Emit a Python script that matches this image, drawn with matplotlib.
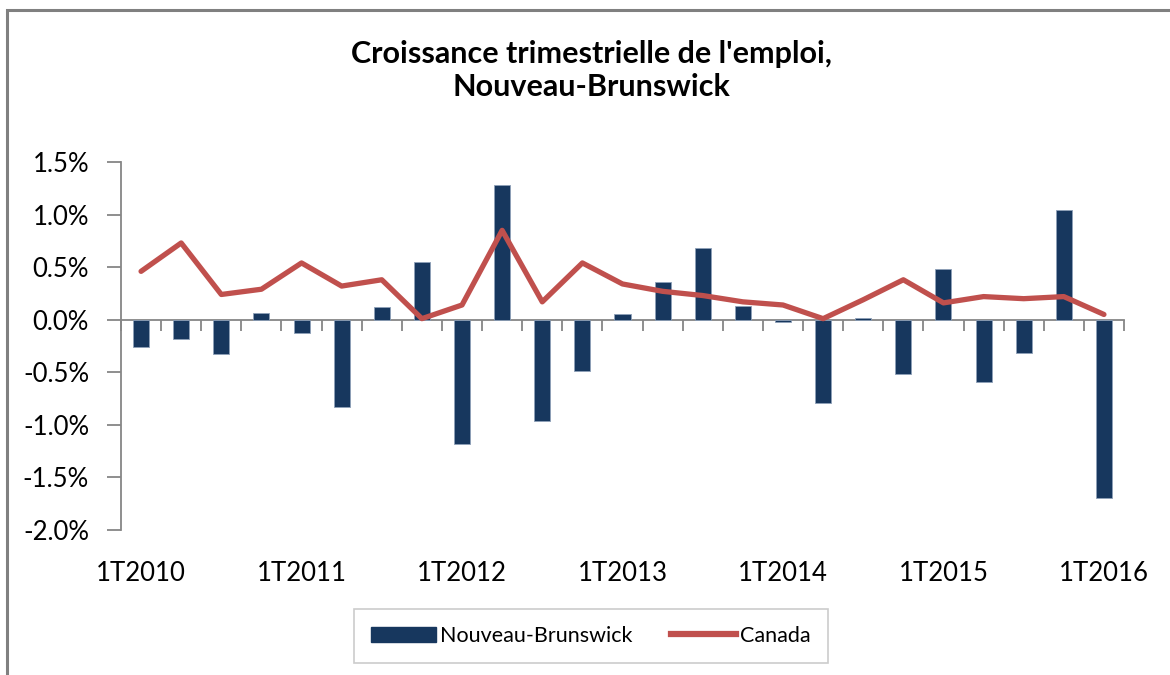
import matplotlib
matplotlib.use("Agg")
import matplotlib.pyplot as plt
from matplotlib.patches import Rectangle, Patch
from matplotlib.lines import Line2D
import numpy as np

plt.rcParams['font.family'] = ['Lato', 'DejaVu Sans']

quarters = [f"{q}T{y}" for y in range(2010, 2017) for q in range(1, 5)][:25]
nb_growth = [-0.26, -0.18, -0.33, 0.06, -0.13, -0.83, 0.12, 0.55, -1.18, 1.28,
             -0.96, -0.49, 0.05, 0.36, 0.68, 0.13, -0.02, -0.79, 0.02, -0.52,
             0.48, -0.59, -0.32, 1.04, -1.70]
canada_growth = [0.46, 0.73, 0.24, 0.29, 0.54, 0.32, 0.38, 0.01, 0.14, 0.85,
                 0.17, 0.54, 0.34, 0.27, 0.23, 0.17, 0.14, 0.01, 0.19, 0.38,
                 0.16, 0.22, 0.20, 0.22, 0.05]
y_ticks = [-2.0, -1.5, -1.0, -0.5, 0.0, 0.5, 1.0, 1.5]
title = "Croissance trimestrielle de l'emploi,\nNouveau-Brunswick"
series_names = ["Nouveau-Brunswick", "Canada"]

bar_color = "#17375E"
line_color = "#C0504D"
axis_color = "#868686"

fig = plt.figure(figsize=(11.7, 6.75), dpi=100)
ax = fig.add_axes([121/1170, 1 - 530/675, (1124 - 121)/1170, (530 - 162)/675])

x = np.arange(len(quarters))
ax.bar(x, nb_growth, width=0.4, color=bar_color, edgecolor="#8EA0B8",
       linewidth=0.6, zorder=2)
ax.plot(x, canada_growth, color=line_color, linewidth=3.8, zorder=3,
        solid_joinstyle='round', solid_capstyle='round')

ax.set_xlim(-0.5, len(quarters) - 0.5)
ax.set_ylim(y_ticks[0], y_ticks[-1])
ax.set_yticks(y_ticks)
ax.set_yticklabels([f"{v:.1f}%" for v in y_ticks])

for s in ['top', 'right']:
    ax.spines[s].set_visible(False)
ax.spines['left'].set_color(axis_color)
ax.spines['left'].set_linewidth(1.3)
ax.spines['bottom'].set_position(('data', 0))
ax.spines['bottom'].set_color(axis_color)
ax.spines['bottom'].set_linewidth(1.3)
ax.spines['bottom'].set_zorder(1)

ax.set_xticks(np.arange(-0.5, len(quarters), 1.0))
ax.set_xticklabels([])
ax.tick_params(axis='x', direction='out', length=8, width=1.3, color=axis_color)
ax.tick_params(axis='y', direction='out', length=10, width=1.3, color=axis_color,
               labelsize=18.5, pad=13, labelcolor="#000000")

sec = ax.secondary_xaxis('bottom')
sec.spines['bottom'].set_visible(False)
lab_idx = list(range(0, len(quarters), 4))
sec.set_xticks([x[i] for i in lab_idx])
sec.set_xticklabels([quarters[i] for i in lab_idx])
sec.tick_params(axis='x', length=0, labelsize=18.5, pad=22)

fig.text(591/1170, 1 - 40/675, title, ha='center', va='top', fontsize=22,
         fontweight='bold', linespacing=1.2)

handles = [Patch(facecolor=bar_color, edgecolor=bar_color),
           Line2D([0], [0], color=line_color, linewidth=4.5)]
leg = fig.legend(handles, series_names, loc='center', ncol=2,
                 bbox_to_anchor=(591/1170, 1 - 636/675), fontsize=15.5,
                 frameon=True, fancybox=False, edgecolor="#BFBFBF",
                 handlelength=3.0, handletextpad=0.2, columnspacing=1.8,
                 borderpad=0.8, borderaxespad=0)
leg.get_frame().set_linewidth(1.2)

border = Rectangle((7/1170, -0.05), 1.2, 1.05 - 10/675, transform=fig.transFigure,
                   fill=False, edgecolor="#808080", linewidth=2.2, clip_on=False)
fig.patches.append(border)

fig.savefig("out.png", dpi=100)
